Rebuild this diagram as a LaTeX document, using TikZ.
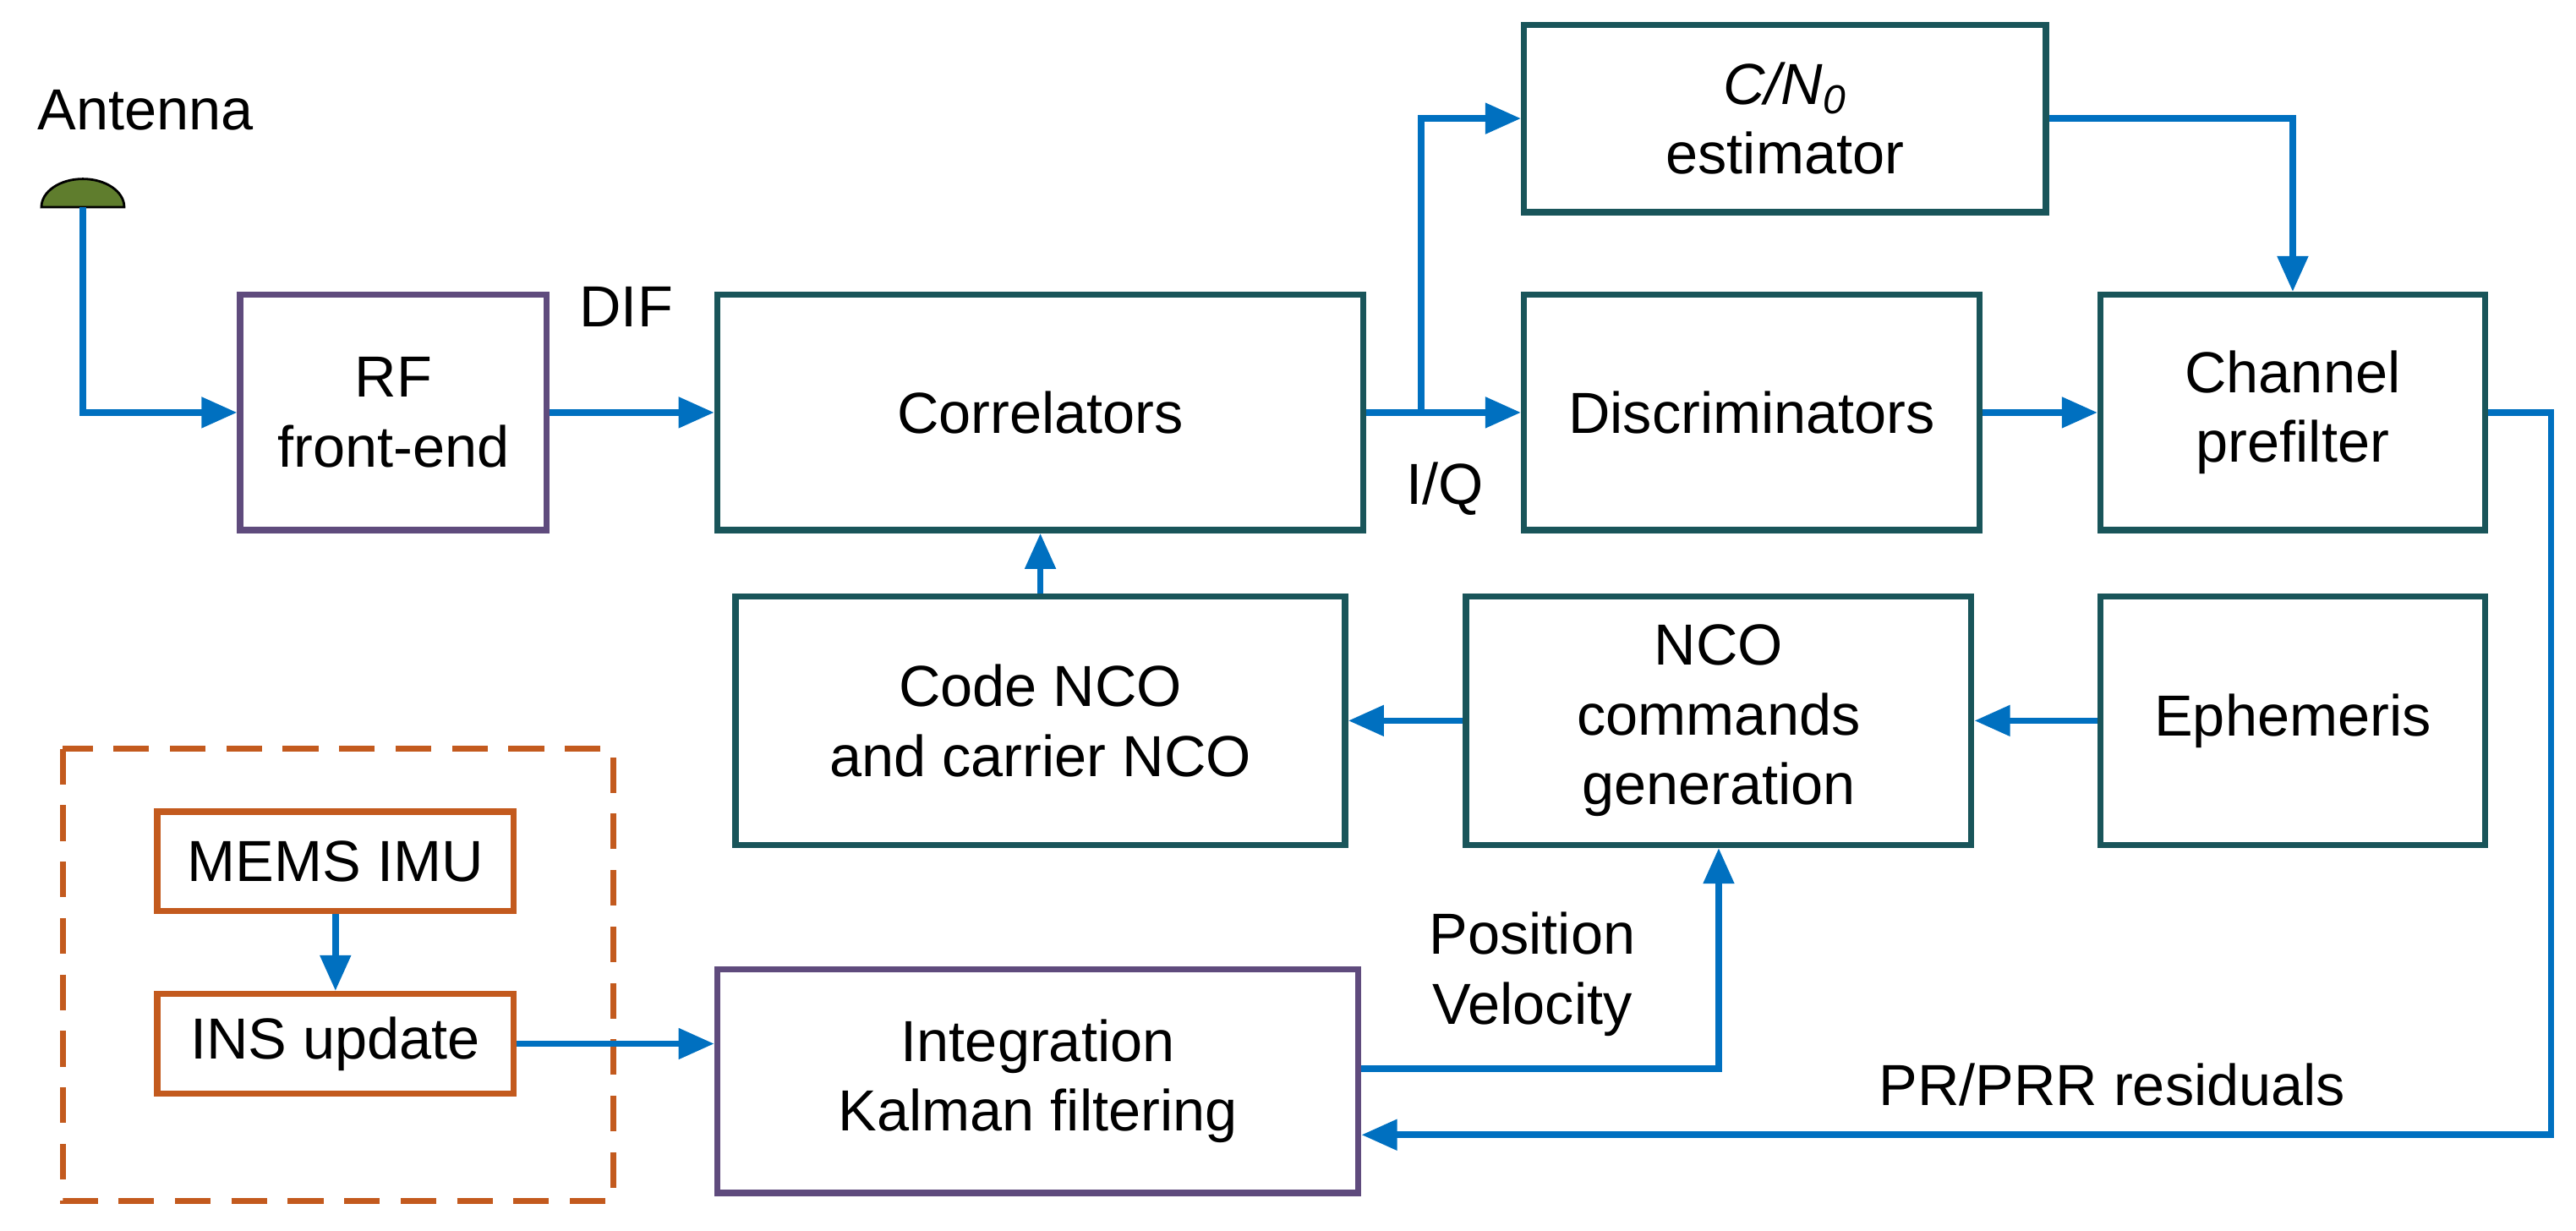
\documentclass[tikz,border=0pt]{standalone}
\usepackage{fontspec}
\setmainfont{Liberation Sans}
\usetikzlibrary{arrows.meta,calc}
\definecolor{teal}{RGB}{25,85,90}
\definecolor{purp}{RGB}{95,75,125}
\definecolor{orng}{RGB}{195,90,30}
\definecolor{arr}{RGB}{0,112,192}
\definecolor{ant}{RGB}{95,125,45}
\begin{document}
\begin{tikzpicture}[x=0.0196cm,y=-0.0196cm,
  box/.style={draw=teal,line width=2.1pt,align=center,font=\fontsize{19.5}{23.5}\selectfont,inner sep=0pt},
  pbox/.style={box,draw=purp},
  obox/.style={box,draw=orng},
  con/.style={draw=arr,line width=2.2pt,-{Triangle[length=12pt,width=10pt]}},
  lbl/.style={font=\fontsize{19.5}{23.5}\selectfont,align=center}]
\useasboundingbox (0,0) rectangle (1555,742.6);
\draw[orng,line width=2pt,dash pattern=on 12pt off 7pt] (38,452) rectangle (370,725);
% nodes
\node[pbox,minimum width=185*0.0196cm,minimum height=142*0.0196cm] (rf) at (237.5,249) {RF\\front-end};
\node[box,minimum width=390*0.0196cm,minimum height=142*0.0196cm] (cor) at (628,249) {Correlators};
\node[box,minimum width=315*0.0196cm,minimum height=113*0.0196cm] (cn) at (1077.5,71.5) {\textit{C/N\textsubscript{0}}\\estimator};
\node[box,minimum width=275*0.0196cm,minimum height=142*0.0196cm] (dis) at (1057.5,249) {Discriminators};
\node[box,minimum width=232*0.0196cm,minimum height=142*0.0196cm] (ch) at (1384,249) {Channel\\prefilter};
\node[box,minimum width=368*0.0196cm,minimum height=150*0.0196cm] (nco) at (628,435) {Code NCO\\and carrier NCO};
\node[box,minimum width=305*0.0196cm,minimum height=150*0.0196cm] (cmd) at (1037.5,435) {NCO\\commands\\generation};
\node[box,minimum width=232*0.0196cm,minimum height=150*0.0196cm] (eph) at (1384,435) {Ephemeris};
\node[obox,minimum width=215*0.0196cm,minimum height=60*0.0196cm] (imu) at (202.5,520) {MEMS IMU};
\node[obox,minimum width=215*0.0196cm,minimum height=60*0.0196cm] (ins) at (202.5,630) {INS update};
\node[pbox,minimum width=387*0.0196cm,minimum height=135*0.0196cm] (kf) at (626.5,652.5) {Integration\\Kalman filtering};
% antenna
\node[lbl,anchor=south] (antl) at (88,85) {Antenna};
\fill[ant,draw=black,line width=0.8pt] (25,125) arc[start angle=180,end angle=360,x radius=25,y radius=17] -- cycle;
\coordinate (ant) at (50,125);
% labels
\node[lbl] (dif) at (378,185) {DIF};
\node[lbl] (iq) at (872,295) {I/Q};
\node[lbl] (pv) at (925,588) {Position\\Velocity};
\node[lbl] (pr) at (1275,655) {PR/PRR residuals};
% connectors
\coordinate (sp) at (858,249);
\draw[con] (ant) |- (rf.west);
\draw[con] (rf.east) -- (cor.west);
\draw[draw=arr,line width=2.2pt] (cor.east) -- (sp);
\draw[con] (sp) -- (dis.west);
\draw[con] (sp) |- (cn.west);
\draw[con] (cn.east) -| (ch.north);
\draw[con] (dis.east) -- (ch.west);
\draw[con] (ch.east) -- ++(38,0) |- (kf.east|-0,685);
\draw[con] (nco.north) -- (cor.south);
\draw[con] (cmd.west) -- (nco.east);
\draw[con] (eph.west) -- (cmd.east);
\draw[con] (imu.south) -- (ins.north);
\draw[con] (ins.east) -- (kf.west|-ins.east);
\draw[con] (kf.east|-0,645) -| (cmd.south);
\end{tikzpicture}
\end{document}
